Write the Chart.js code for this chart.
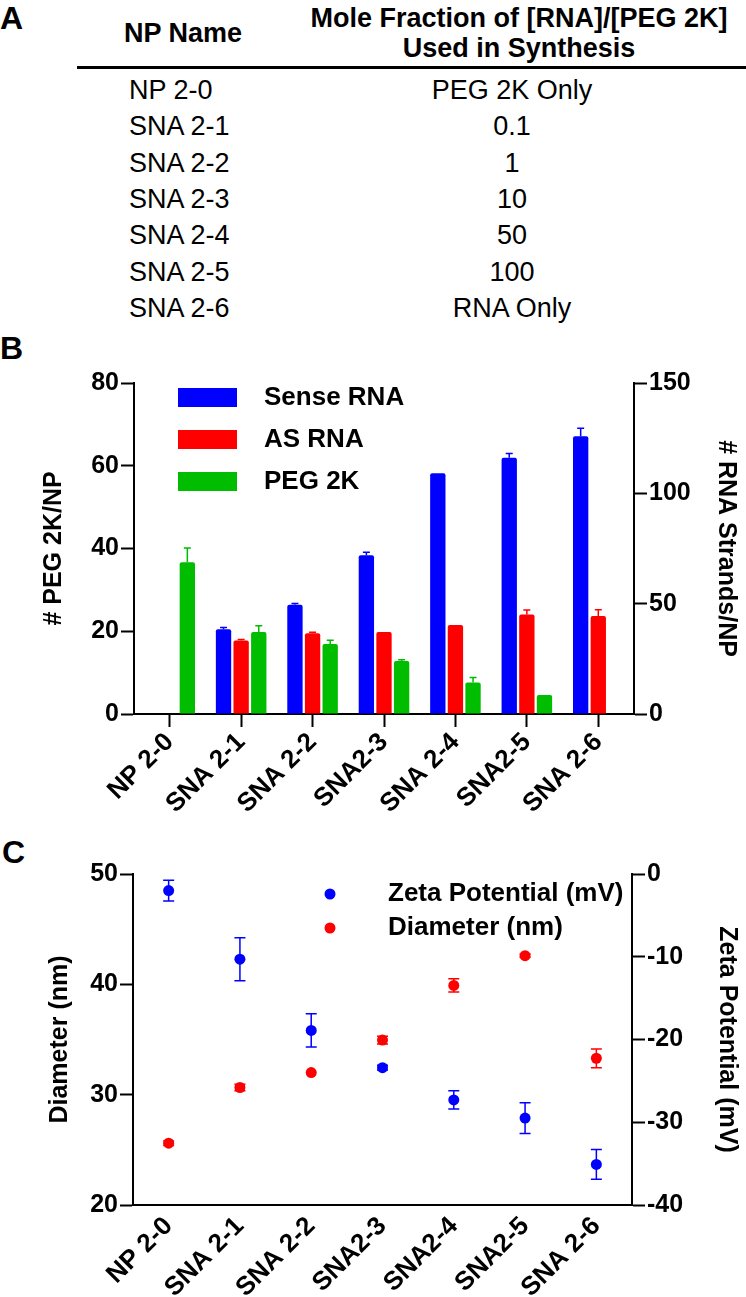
<!DOCTYPE html>
<html>
<head>
<meta charset="utf-8">
<script src="https://cdn.jsdelivr.net/npm/chart.js@4.4.1/dist/chart.umd.min.js"></script>
<style>
  html, body { margin: 0; padding: 0; background: #fff; }
  body { width: 746px; height: 1297px; position: relative; overflow: hidden;
         font-family: 'Liberation Sans', Arial, sans-serif; color: #000; }
  .t { position: absolute; white-space: nowrap; line-height: 1; transform: translateY(-50%); }
  .panel { font-weight: bold; font-size: 32px; }
  .hd { font-weight: bold; font-size: 27px; }
  .cell { font-size: 27px; }
  .mid { transform: translate(-50%, -50%); }
  .rule { position: absolute; left: 77px; right: 0; top: 66px; height: 3px; background: #000; }
  canvas { position: absolute; left: 0; }
  #chartB { top: 335px; }
  #chartC { top: 850px; }
</style>
</head>
<body>
<div class="t panel" style="left:0px;top:18px">A</div>
<div class="t panel" style="left:0px;top:348px">B</div>
<div class="t panel" style="left:2px;top:852px">C</div>

<div class="t hd" style="left:124px;top:33px">NP Name</div>
<div class="t hd mid" style="left:519px;top:18px">Mole Fraction of [RNA]/[PEG 2K]</div>
<div class="t hd mid" style="left:519px;top:48px">Used in Synthesis</div>
<div class="rule"></div>
<div id="table"></div>

<canvas id="chartB" width="746" height="525"></canvas>
<canvas id="chartC" width="746" height="447"></canvas>

<script>
// ---------- Panel A table ----------
const npNames = ['NP 2-0', 'SNA 2-1', 'SNA 2-2', 'SNA 2-3', 'SNA 2-4', 'SNA 2-5', 'SNA 2-6'];
const moleFractions = ['PEG 2K Only', '0.1', '1', '10', '50', '100', 'RNA Only'];

// ---------- Panel B data ----------
const labelsB = ['NP 2-0', 'SNA 2-1', 'SNA 2-2', 'SNA2-3', 'SNA 2-4', 'SNA2-5', 'SNA 2-6'];
const senseRNA = [null, 38.4, 49.5, 71.9, 109.1, 116.1, 125.9];
const senseErr = [0, 0.8, 0.6, 1.4, 0, 2.0, 3.6];
const asRNA = [null, 33.3, 36.6, 37.2, 40.3, 45.1, 44.4];
const asErr = [0, 0.5, 0.4, 0, 0, 2.0, 2.8];
const peg2K = [36.7, 19.8, 16.9, 12.8, 7.6, 4.6, null];
const pegErr = [3.4, 1.5, 0.9, 0.3, 1.2, 0, 0];

// ---------- Panel C data ----------
const labelsC = ['NP 2-0', 'SNA 2-1', 'SNA 2-2', 'SNA2-3', 'SNA2-4', 'SNA2-5', 'SNA 2-6'];
const zeta = [-2.0, -10.3, -18.9, -23.4, -27.3, -29.5, -35.1];
const zetaErr = [1.25, 2.6, 2.0, 0.3, 1.1, 1.85, 1.8];
const diameter = [25.6, 30.65, 32.0, 34.95, 39.9, 42.6, 33.3];
const diameterErr = [0.2, 0.3, 0, 0.35, 0.6, 0.15, 0.85];

const FONT = "'Liberation Sans', Arial, sans-serif";
const BLUE = '#0000ff', RED = '#ff0000', GREEN = '#00bd00';

// table rows
const tableEl = document.getElementById('table');
npNames.forEach((n, i) => {
  const y = 90 + i * 36.3;
  tableEl.insertAdjacentHTML('beforeend',
    `<div class="t cell" style="left:129px;top:${y}px">${n}</div>` +
    `<div class="t cell mid" style="left:512px;top:${y}px">${moleFractions[i]}</div>`);
});

Chart.defaults.font.family = FONT;
Chart.defaults.color = '#000';

// error bars drawn from the dataset values through the y scale
const errorBars = {
  id: 'errorBars',
  beforeDatasetsDraw(chart, args, o) { if (o.under) draw(chart, o); },
  afterDatasetsDraw(chart, args, o) { if (!o.under) draw(chart, o); },
};
function draw(chart, o) {
  const ctx = chart.ctx;
  chart.data.datasets.forEach((ds, i) => {
    if (!ds.errors) return;
    const meta = chart.getDatasetMeta(i);
    const ys = chart.scales[meta.yAxisID];
    ctx.save();
    ctx.strokeStyle = ds.backgroundColor;
    ctx.lineWidth = o.lineWidth;
    meta.data.forEach((el, j) => {
      const v = ds.data[j], e = ds.errors[j];
      if (v == null || !e) return;
      const x = el.x;
      const top = ys.getPixelForValue(v + e);
      const bot = o.upOnly ? ys.getPixelForValue(v) : ys.getPixelForValue(v - e);
      ctx.beginPath();
      ctx.moveTo(x, bot); ctx.lineTo(x, top);
      ctx.moveTo(x - o.cap, top); ctx.lineTo(x + o.cap, top);
      if (!o.upOnly) { ctx.moveTo(x - o.cap, bot); ctx.lineTo(x + o.cap, bot); }
      ctx.stroke();
    });
    ctx.restore();
  });
}

// legend inside the plot area
const innerLegend = {
  id: 'innerLegend',
  afterDraw(chart, args, o) {
    const { ctx, chartArea } = chart;
    ctx.save();
    ctx.font = `bold ${o.fontSize}px ${FONT}`;
    ctx.textBaseline = 'middle';
    chart.data.datasets.forEach((ds, i) => {
      const x = chartArea.left + o.left;
      const y = chartArea.top + o.top + i * o.spacing;
      ctx.fillStyle = ds.backgroundColor;
      if (o.marker === 'box') {
        ctx.fillRect(x, y - o.boxH / 2, o.boxW, o.boxH);
      } else {
        ctx.beginPath(); ctx.arc(x, y, o.radius, 0, Math.PI * 2); ctx.fill();
      }
      ctx.fillStyle = '#000';
      ctx.fillText(ds.label, x + o.textOffset, y);
    });
    ctx.restore();
  }
};

function axisY(pos, min, max, step, width, title, titlePad) {
  return {
    position: pos, min, max,
    grid: { drawOnChartArea: false, drawTicks: true, tickLength: 13, tickWidth: 2, tickColor: '#000' },
    border: { color: '#000', width: 2 },
    ticks: { stepSize: step, padding: 2, color: '#000', font: { size: 25, weight: 'bold' } },
    title: { display: true, text: title, color: '#000', font: { size: 25, weight: 'bold' }, padding: { top: titlePad, bottom: 0 } },
    afterFit(s) { s.width = width; },
  };
}
function axisX(height, ticks) {
  return {
    offset: true,
    grid: { offset: false, drawOnChartArea: false, display: true, drawTicks: ticks, tickLength: 13, tickWidth: 2, tickColor: '#000' },
    border: { color: '#000', width: 2 },
    ticks: { minRotation: 45, maxRotation: 45, autoSkip: false, padding: ticks ? 0 : 6, color: '#000', font: { size: 26, weight: 'bold' } },
    afterFit(s) { s.height = height; },
  };
}

new Chart(document.getElementById('chartB'), {
  type: 'bar',
  data: {
    labels: labelsB,
    datasets: [
      { label: 'Sense RNA', data: senseRNA, errors: senseErr, backgroundColor: BLUE, yAxisID: 'y1' },
      { label: 'AS RNA', data: asRNA, errors: asErr, backgroundColor: RED, yAxisID: 'y1' },
      { label: 'PEG 2K', data: peg2K, errors: pegErr, backgroundColor: GREEN, yAxisID: 'y' },
    ]
  },
  options: {
    responsive: false,
    animation: false,
    categoryPercentage: 0.74,
    barPercentage: 0.87,
    borderRadius: 2,
    layout: { padding: { top: 48, left: 0, right: 0, bottom: 0 } },
    plugins: {
      legend: { display: false },
      tooltip: { enabled: false },
      errorBars: { lineWidth: 1.5, cap: 3.5, upOnly: true, under: false },
      innerLegend: { marker: 'box', left: 44, top: 14.5, spacing: 42, boxW: 59, boxH: 19, textOffset: 86, fontSize: 26 },
    },
    scales: {
      x: axisX(146, true),
      y: axisY('left', 0, 80, 20, 134, '# PEG 2K/NP', 39),
      y1: axisY('right', 0, 150, 50, 112, '# RNA Strands/NP', 5),
    }
  },
  plugins: [errorBars, innerLegend]
});

new Chart(document.getElementById('chartC'), {
  type: 'line',
  data: {
    labels: labelsC,
    datasets: [
      { label: 'Zeta Potential (mV)', data: zeta, errors: zetaErr, backgroundColor: BLUE, borderColor: BLUE, yAxisID: 'y1' },
      { label: 'Diameter (nm)', data: diameter, errors: diameterErr, backgroundColor: RED, borderColor: RED, yAxisID: 'y' },
    ]
  },
  options: {
    responsive: false,
    animation: false,
    showLine: false,
    elements: { point: { radius: 5.5, borderWidth: 0 } },
    layout: { padding: { top: 24, left: 0, right: 0, bottom: 0 } },
    plugins: {
      legend: { display: false },
      tooltip: { enabled: false },
      errorBars: { lineWidth: 1.5, cap: 5.5, upOnly: false, under: true },
      innerLegend: { marker: 'dot', left: 197, top: 20, spacing: 34, radius: 5.5, textOffset: 58, fontSize: 26 },
    },
    scales: {
      x: axisX(92, false),
      y: axisY('left', 20, 50, 10, 133, 'Diameter (nm)', 45),
      y1: axisY('right', -40, 0, 10, 114, 'Zeta Potential (mV)', 4),
    }
  },
  plugins: [errorBars, innerLegend]
});
</script>
</body>
</html>
